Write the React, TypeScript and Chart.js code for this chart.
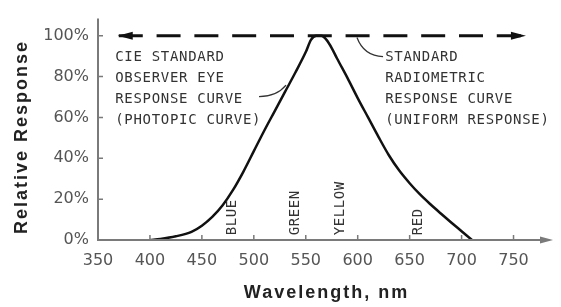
import React, { useEffect, useRef } from "react";
import { Chart, registerables } from "chart.js";

Chart.register(...registerables);

// ---- data ----
const wavelengths = [400, 410, 425, 440, 450, 460, 470, 480, 490, 500, 510, 520, 530, 540, 550, 555, 560, 565, 570, 575, 580, 590, 600, 610, 620, 630, 640, 650, 660, 670, 680, 690, 700, 710];
const photopicResponse = [0, 0.5, 1.8, 4.0, 7.0, 11.3, 17, 24.5, 33.5, 43.5, 53.5, 63, 72.5, 82, 92, 98, 100, 100, 98, 94, 89, 79.5, 69.5, 60, 50.5, 41.5, 34, 27.8, 22.3, 17.5, 13, 8.6, 4.3, 0];
const uniformWavelengths = [370, 761];
const uniformResponse = [100, 100];
const xTickValues = [350, 400, 450, 500, 550, 600, 650, 700, 750];
const yTickValues = [0, 20, 40, 60, 80, 100];
const bandNames = ["BLUE", "GREEN", "YELLOW", "RED"];
const bandWavelengths = [479, 540, 583, 658];
const leftNote = ["CIE STANDARD", "OBSERVER EYE", "RESPONSE CURVE", "(PHOTOPIC CURVE)"];
const rightNote = ["STANDARD", "RADIOMETRIC", "RESPONSE CURVE", "(UNIFORM RESPONSE)"];
const xTitle = "Wavelength, nm";
const yTitle = "Relative Response";

const INK = "#111";
const AXIS = "#7a7a7a";
const NOTE = "#333";

const decorPlugin = {
  id: "decor",
  afterDatasetsDraw(chart: any) {
    const { ctx, chartArea: ca, scales } = chart;
    const xs = scales.x;
    const ys = scales.y;
    const px = (v: number) => xs.getPixelForValue(v);
    const py = (v: number) => ys.getPixelForValue(v);
    ctx.save();

    // axes
    ctx.strokeStyle = AXIS;
    ctx.fillStyle = AXIS;
    ctx.lineWidth = 2;
    ctx.beginPath();
    ctx.moveTo(ca.left, ca.top);
    ctx.lineTo(ca.left, ca.bottom);
    ctx.lineTo(ca.right - 10, ca.bottom);
    ctx.stroke();
    ctx.beginPath();
    ctx.moveTo(ca.right, ca.bottom);
    ctx.lineTo(ca.right - 13, ca.bottom - 3.5);
    ctx.lineTo(ca.right - 13, ca.bottom + 3.5);
    ctx.closePath();
    ctx.fill();
    // inner ticks
    ctx.lineWidth = 1.5;
    ctx.beginPath();
    xTickValues.forEach((v) => {
      if (v === xs.min) return;
      ctx.moveTo(px(v), ca.bottom);
      ctx.lineTo(px(v), ca.bottom - 5);
    });
    yTickValues.forEach((v) => {
      if (v === 0) return;
      ctx.moveTo(ca.left, py(v));
      ctx.lineTo(ca.left + 5, py(v));
    });
    ctx.stroke();

    // arrowheads on the uniform response line
    const meta = chart.getDatasetMeta(1);
    const p0 = meta.data[0];
    const p1 = meta.data[meta.data.length - 1];
    ctx.fillStyle = INK;
    ctx.beginPath();
    ctx.moveTo(p0.x - 1, p0.y);
    ctx.lineTo(p0.x + 14, p0.y - 4);
    ctx.lineTo(p0.x + 14, p0.y + 4);
    ctx.closePath();
    ctx.fill();
    ctx.beginPath();
    ctx.moveTo(p1.x + 1, p1.y);
    ctx.lineTo(p1.x - 14, p1.y - 4);
    ctx.lineTo(p1.x - 14, p1.y + 4);
    ctx.closePath();
    ctx.fill();

    // notes
    ctx.fillStyle = NOTE;
    ctx.font = "14px 'DejaVu Sans Mono'";
    (ctx as any).letterSpacing = "0.7px";
    ctx.textAlign = "left";
    ctx.textBaseline = "middle";
    leftNote.forEach((t, i) => ctx.fillText(t, px(366.5), py(89.3) + i * 21));
    rightNote.forEach((t, i) => ctx.fillText(t, px(626.5), py(89.3) + i * 21));

    // leader lines
    ctx.strokeStyle = NOTE;
    ctx.lineWidth = 1.3;
    ctx.beginPath();
    ctx.moveTo(px(505), py(70.2));
    ctx.quadraticCurveTo(px(522), py(70.2), px(531), py(75.8));
    ctx.stroke();
    ctx.beginPath();
    ctx.moveTo(px(599.3), py(99.1));
    ctx.quadraticCurveTo(px(606), py(90), px(624.4), py(89.8));
    ctx.stroke();

    // colour band labels
    ctx.font = "14px 'DejaVu Sans Mono'";
    (ctx as any).letterSpacing = "0.6px";
    bandNames.forEach((name, i) => {
      ctx.save();
      ctx.translate(px(bandWavelengths[i]), py(2.3));
      ctx.rotate(-Math.PI / 2);
      ctx.textAlign = "left";
      ctx.textBaseline = "middle";
      ctx.fillText(name, 0, 0);
      ctx.restore();
    });

    // axis titles
    ctx.fillStyle = "#222";
    ctx.font = "bold 18px 'Liberation Sans'";
    (ctx as any).letterSpacing = "2px";
    ctx.textAlign = "center";
    ctx.textBaseline = "middle";
    ctx.fillText(xTitle, (ca.left + ca.right) / 2 + 1, 293);
    ctx.save();
    ctx.translate(22, 137);
    ctx.rotate(-Math.PI / 2);
    ctx.fillText(yTitle, 0, 0);
    ctx.restore();

    ctx.restore();
  },
};

export default function App() {
  const ref = useRef<HTMLCanvasElement | null>(null);
  useEffect(() => {
    if (!ref.current) return;
    const chart = new Chart(ref.current, {
      type: "line",
      data: {
        datasets: [
          {
            data: wavelengths.map((w, i) => ({ x: w, y: photopicResponse[i] })),
            borderColor: INK,
            borderWidth: 2.5,
            pointRadius: 0,
            cubicInterpolationMode: "monotone",
            fill: false,
          },
          {
            data: uniformWavelengths.map((w, i) => ({ x: w, y: uniformResponse[i] })),
            borderColor: INK,
            borderWidth: 3,
            borderDash: [24, 13.8],
            pointRadius: 0,
            fill: false,
          },
        ],
      },
      options: {
        responsive: false,
        animation: false,
        devicePixelRatio: 1,
        layout: { padding: { top: 7, right: 8, left: 0, bottom: 0 } },
        plugins: { legend: { display: false }, tooltip: { enabled: false } },
        scales: {
          x: {
            type: "linear",
            min: 350,
            max: 788,
            grid: { display: false, drawTicks: false },
            border: { display: false },
            afterFit: (s: any) => {
              s.height = 67;
            },
            afterBuildTicks: (s: any) => {
              s.ticks = xTickValues.map((v) => ({ value: v }));
            },
            ticks: {
              padding: 11,
              color: "#555",
              font: { family: "'DejaVu Sans'", size: 16 },
              callback: (v: any) => String(v),
              maxRotation: 0,
              autoSkip: false,
            },
          },
          y: {
            type: "linear",
            min: 0,
            max: 108.4,
            grid: { display: false, drawTicks: false },
            border: { display: false },
            afterFit: (s: any) => {
              s.width = 98;
            },
            afterBuildTicks: (s: any) => {
              s.ticks = yTickValues.map((v) => ({ value: v }));
            },
            ticks: {
              padding: 9,
              color: "#555",
              font: { family: "'DejaVu Sans'", size: 16 },
              callback: (v: any) => v + "%",
              autoSkip: false,
            },
          },
        },
      },
      plugins: [decorPlugin],
    } as any);
    return () => chart.destroy();
  }, []);
  return (
    <div style={{ position: "absolute", left: 0, top: 0, width: 561, height: 307, background: "#fff" }}>
      <canvas ref={ref} width={561} height={307} />
    </div>
  );
}
